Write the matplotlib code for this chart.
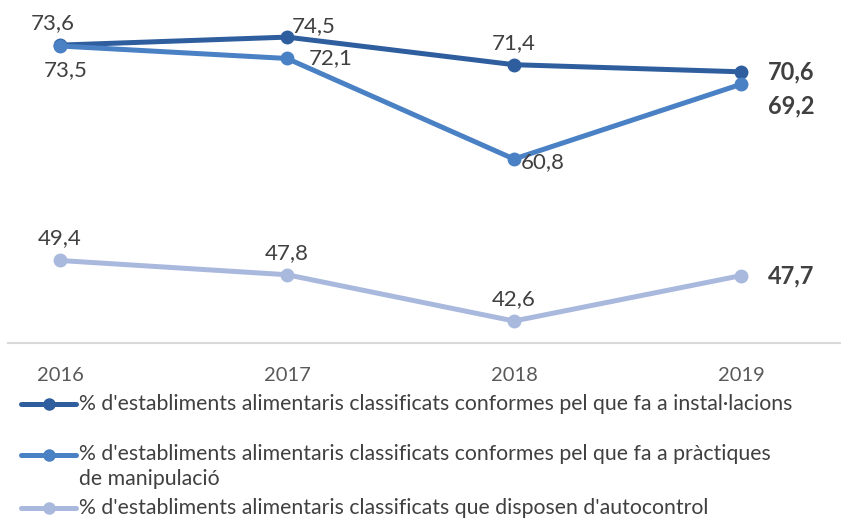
import matplotlib
matplotlib.use("Agg")
import matplotlib.pyplot as plt
from matplotlib.lines import Line2D

years = ["2016", "2017", "2018", "2019"]
instal = [73.6, 74.5, 71.4, 70.6]
practiques = [73.5, 72.1, 60.8, 69.2]
autocontrol = [49.4, 47.8, 42.6, 47.7]
labels = [
    "% d'establiments alimentaris classificats conformes pel que fa a instal·lacions",
    "% d'establiments alimentaris classificats conformes pel que fa a pràctiques\nde manipulació",
    "% d'establiments alimentaris classificats que disposen d'autocontrol",
]
colors = ["#2F5E9E", "#4A80C4", "#A8B9DD"]

W, H = 841, 521
fig = plt.figure(figsize=(W / 100, H / 100), dpi=100)
fontname = "Lato"
txtcol = "#404040"

ax = fig.add_axes([8 / W, (H - 343) / H, (W - 8) / W, 343 / H])
x = list(range(len(years)))
series = [instal, practiques, autocontrol]
for s, c in zip(series, colors):
    ax.plot(x, s, color=c, lw=3.6, marker="o", ms=9, solid_capstyle="round", zorder=3)

ax.set_xlim(-52 / 227, 3 + 100 / 227)
ax.set_ylim(40.13, 78.67)
ax.set_yticks([])
ax.set_xticks(x)
ax.set_xticklabels(years, fontname=fontname, fontsize=14.5, color="#595959")
ax.tick_params(axis="x", length=0, pad=17)
for sp in ["top", "right", "left"]:
    ax.spines[sp].set_visible(False)
ax.spines["bottom"].set_color("#D9D9D9")
ax.spines["bottom"].set_linewidth(1.5)

# label offsets in pixels (dx, dy, ha, va)
offs = [
    [(-7, 12, "center", "bottom"), (5, 1, "left", "bottom"), (0, 12, "center", "bottom"), (27, 0, "left", "center")],
    [(6, -14, "center", "top"), (22, 0, "left", "center"), (7, -3, "left", "center"), (27, -22, "left", "center")],
    [(0, 12, "center", "bottom"), (0, 12, "center", "bottom"), (0, 12, "center", "bottom"), (27, 0, "left", "center")],
]
for s, o in zip(series, offs):
    for i, v in enumerate(s):
        dx, dy, ha, va = o[i]
        bold = i == 3
        ax.annotate(f"{v:.1f}".replace(".", ","), (i, v), xytext=(dx, dy),
                    textcoords="offset pixels", ha=ha, va=va,
                    fontname=fontname, fontsize=17 if bold else 16, color=txtcol,
                    fontweight="bold" if bold else "normal")

# legend
rows = [404, 455, 508]
for lab, c, yy in zip(labels, colors, rows):
    yf = (H - yy) / H
    fig.add_artist(Line2D([21 / W, 76 / W], [yf, yf], color=c, lw=3.6,
                          transform=fig.transFigure, solid_capstyle="round"))
    fig.add_artist(Line2D([48.5 / W], [yf], color=c, marker="o", ms=8,
                          transform=fig.transFigure))
    if "\n" in lab:
        fig.text(79 / W, yf + 11 / H, lab, ha="left", va="top",
                 fontname=fontname, fontsize=15.3, color="#404040", linespacing=1.3)
    else:
        fig.text(79 / W, yf, lab, ha="left", va="center",
                 fontname=fontname, fontsize=15.3, color="#404040")

fig.savefig("out.png", dpi=100)
